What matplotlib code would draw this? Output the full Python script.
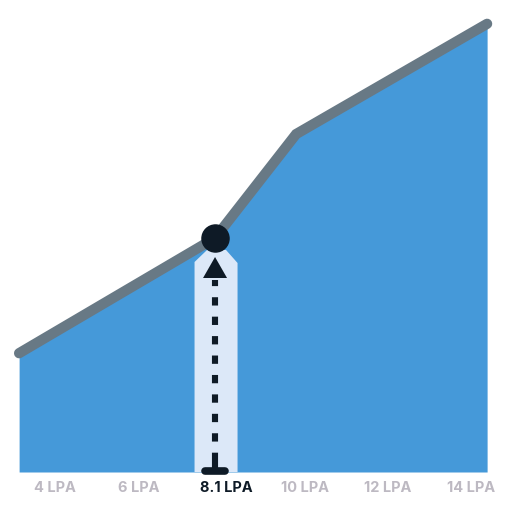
import matplotlib
matplotlib.use("Agg")
import matplotlib.pyplot as plt
from matplotlib.patches import Polygon

# Data
line_x = [3.13, 7.84, 9.79, 14.38]      # salary axis (LPA)
line_y = [26.4, 52.0, 75.1, 99.6]       # score / index
tick_values = [4, 6, 8.1, 10, 12, 14]
tick_labels = ["4 LPA", "6 LPA", "8.1 LPA", "10 LPA", "12 LPA", "14 LPA"]
highlight_label = "8.1 LPA"
highlight_index = 1

AREA = "#4599D9"
LINE = "#687985"
BAND = "#DCE8F8"
DARK = "#0E1A26"
GRAY = "#BDB9C2"

fig = plt.figure(figsize=(5.12, 5.12), dpi=100)
ax = fig.add_axes([0, 0, 1, 1])
PX_PER_X = 41.6
PX_PER_Y = 4.5
ax.set_xlim(111.1 / PX_PER_X, (512 + 111.1) / PX_PER_X)
ax.set_ylim(-40 / PX_PER_Y, 472 / PX_PER_Y)
ax.axis("off")

ax.fill_between(line_x, 0, line_y, color=AREA, lw=0, zorder=1)
ax.plot(line_x, line_y, color=LINE, lw=7.4, solid_capstyle="round",
        solid_joinstyle="miter", zorder=3)

hx = line_x[highlight_index]
hy = line_y[highlight_index]
dx = 1 / PX_PER_X
dy = 1 / PX_PER_Y

# highlight band
band = Polygon([(hx - 20.5 * dx, 0), (hx - 20.5 * dx, hy - 24 * dy),
                (hx - 8 * dx, hy - 12 * dy), (hx + 11 * dx, hy - 12 * dy),
                (hx + 22.5 * dx, hy - 25 * dy), (hx + 22.5 * dx, 0)],
               closed=True, color=BAND, lw=0, zorder=2)
ax.add_patch(band)

# dotted stem
ax.plot([hx, hx], [11 * dy, hy - 42 * dy], color=DARK, lw=4.4,
        linestyle=(0, (1.36, 1.82)), dash_capstyle="butt", zorder=4)
ax.plot([hx, hx], [4 * dy, 11 * dy], color=DARK, lw=4.4,
        solid_capstyle="butt", zorder=4)
ax.plot([hx - 10 * dx, hx + 10 * dx], [1.5 * dy, 1.5 * dy], color=DARK,
        lw=5.5, solid_capstyle="round", zorder=4)
# arrow head
head = Polygon([(hx, hy - 19 * dy), (hx - 12 * dx, hy - 40 * dy),
                (hx + 12 * dx, hy - 40 * dy)], closed=True, color=DARK,
               lw=0, zorder=4)
ax.add_patch(head)

# marker
ax.plot([hx], [hy], "o", ms=19.5, color=DARK, mec=DARK, zorder=5)

for v, lab in zip(tick_values, tick_labels):
    hl = lab == highlight_label
    ax.text(v, -16 * dy, lab, ha="center", va="center",
            fontsize=10.5, fontweight="bold", family="Inter",
            color=DARK if hl else GRAY, zorder=6)

fig.savefig("out.png", dpi=100)
